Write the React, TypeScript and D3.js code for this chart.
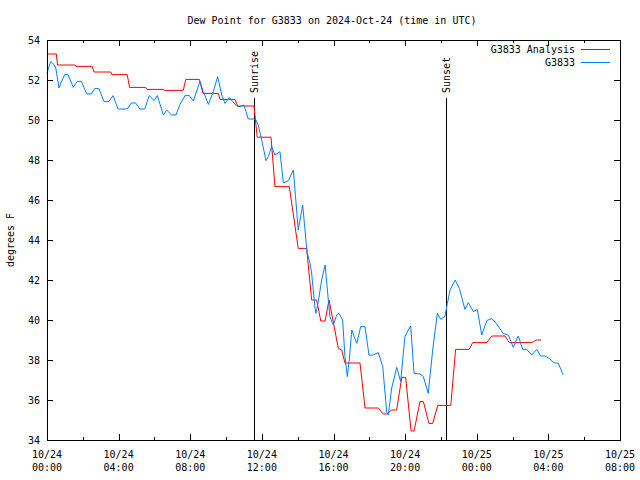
import React from "react";
import * as d3 from "d3";

const TITLE = "Dew Point for G3833 on 2024-Oct-24 (time in UTC)";
const Y_LABEL = "degrees F";
const SERIES_NAMES = ["G3833 Analysis", "G3833"];
const SERIES_COLORS = ["#ff0000", "#0080ff"];

// hours after 2024-10-24 00:00 UTC
const analysisHours = [0, 0.52, 0.59, 1.56, 1.62, 2.53, 2.62, 3.56, 3.63, 4.48, 4.61, 5.51, 5.58, 6.5, 6.56, 7.61, 7.75, 8.51, 8.71, 9.57, 9.66, 10.5, 10.64, 11.56, 11.74, 12.51, 12.73, 13.53, 14.03, 14.5, 14.78, 15.06, 15.29, 15.53, 15.75, 16.27, 16.46, 16.64, 17.48, 17.76, 18.5, 18.78, 18.97, 19.25, 19.53, 19.81, 20.03, 20.33, 20.5, 20.83, 21.02, 21.33, 21.54, 21.82, 22.55, 22.82, 23.58, 23.77, 24.56, 24.84, 25.58, 25.82, 27.07, 27.35, 27.59];
const analysisValues = [53.3, 53.3, 52.75, 52.75, 52.68, 52.68, 52.4, 52.4, 52.27, 52.27, 51.63, 51.63, 51.53, 51.53, 51.48, 51.48, 52.03, 52.03, 51.33, 51.33, 51.03, 51.03, 50.7, 50.7, 49.14, 49.14, 46.67, 46.67, 43.58, 43.58, 41.0, 41.0, 39.95, 39.95, 41.0, 38.58, 38.5, 37.85, 37.85, 35.6, 35.6, 35.3, 35.3, 35.5, 35.5, 37.13, 37.13, 34.45, 34.45, 35.92, 35.92, 34.83, 34.83, 35.73, 35.73, 38.53, 38.53, 38.87, 38.87, 39.2, 39.2, 38.87, 38.87, 39.0, 39.0];

const obsHours = [0, 0.21, 0.39, 0.49, 0.67, 0.77, 0.99, 1.17, 1.47, 1.69, 1.92, 2.22, 2.47, 2.66, 2.9, 3.18, 3.46, 3.69, 3.97, 4.48, 4.71, 4.95, 5.19, 5.46, 5.71, 5.98, 6.16, 6.5, 6.68, 6.96, 7.2, 7.43, 7.71, 7.95, 8.17, 8.54, 8.73, 9.01, 9.29, 9.53, 9.76, 9.94, 10.18, 10.37, 10.63, 10.78, 11.0, 11.24, 11.56, 11.67, 11.8, 11.99, 12.23, 12.36, 12.55, 12.73, 13.01, 13.2, 13.48, 13.76, 14.03, 14.28, 14.52, 14.69, 14.78, 14.97, 15.02, 15.15, 15.34, 15.53, 15.71, 15.8, 15.99, 16.18, 16.31, 16.51, 16.64, 16.77, 16.88, 17.02, 17.3, 17.52, 17.76, 17.98, 18.22, 18.5, 18.75, 18.97, 19.06, 19.25, 19.53, 19.75, 19.99, 20.18, 20.31, 20.5, 20.83, 21.02, 21.29, 21.54, 21.8, 21.99, 22.23, 22.36, 22.51, 22.79, 23.03, 23.34, 23.53, 23.81, 24.03, 24.28, 24.56, 24.84, 25.11, 25.48, 25.76, 26.04, 26.32, 26.57, 26.79, 27.07, 27.35, 27.57, 27.81, 28.05, 28.28, 28.56, 28.83];
const obsValues = [52.35, 52.93, 52.77, 52.6, 51.6, 51.85, 52.27, 52.27, 51.63, 51.93, 51.93, 51.3, 51.3, 51.57, 51.57, 50.93, 50.93, 51.22, 50.55, 50.55, 50.85, 50.85, 50.55, 50.55, 51.22, 50.97, 51.22, 50.25, 50.5, 50.25, 50.25, 50.78, 51.22, 51.22, 50.95, 51.92, 51.42, 50.78, 51.42, 52.17, 51.25, 50.83, 51.13, 50.92, 50.67, 50.67, 50.75, 50.05, 50.05, 50.0, 49.75, 49.0, 47.97, 48.17, 48.67, 48.25, 48.42, 46.85, 46.97, 47.5, 44.5, 45.75, 43.4, 42.83, 42.33, 40.58, 40.33, 40.92, 42.0, 42.75, 41.0, 40.17, 39.75, 40.25, 40.33, 40.0, 38.17, 37.17, 38.0, 39.5, 38.83, 39.67, 39.67, 38.25, 38.25, 38.37, 37.67, 35.4, 35.25, 36.6, 37.63, 36.92, 39.17, 39.5, 39.7, 37.33, 37.3, 37.17, 36.33, 38.5, 40.33, 40.03, 40.2, 40.83, 41.5, 42.0, 41.58, 40.53, 40.87, 40.42, 40.53, 39.25, 39.97, 40.08, 39.8, 39.33, 39.25, 38.63, 39.2, 38.53, 38.53, 38.25, 38.53, 38.2, 38.2, 38.08, 37.87, 37.83, 37.25];

const yTicks = [34, 36, 38, 40, 42, 44, 46, 48, 50, 52, 54];
const sunEvents = [
  { label: "Sunrise", hour: 11.58 },
  { label: "Sunset", hour: 22.28 },
];

const BASE = Date.UTC(2024, 9, 24);
const toDate = (h: number) => new Date(BASE + h * 3600 * 1000);

export default function App() {
  const W = 640, H = 480;
  const L = 47, R = 620, T = 40, B = 440;
  const font = "'DejaVu Sans Mono', 'Liberation Mono', monospace";

  const x = d3.scaleUtc().domain([toDate(0), toDate(32)]).range([L, R]);
  const y = d3.scaleLinear().domain([34, 54]).range([B, T]);

  const majorTicks = x.ticks(d3.utcHour.every(4) as any);
  const minorTicks = x.ticks(d3.utcHour.every(2) as any).filter(
    (d) => d.getUTCHours() % 4 !== 0
  );
  const fmtDate = d3.utcFormat("%m/%d");
  const fmtTime = d3.utcFormat("%H:%M");

  const line = d3
    .line<[number, number]>()
    .x((d) => x(toDate(d[0])))
    .y((d) => y(d[1]));

  const analysisData: [number, number][] = analysisHours.map((h, i) => [h, analysisValues[i]]);
  const obsData: [number, number][] = obsHours.map((h, i) => [h, obsValues[i]]);

  const px = (v: number) => Math.round(v) + 0.5;

  return (
    <svg width={W} height={H} style={{ display: "block", position: "absolute", left: 0, top: 0, background: "#fff" }}>
      <rect x={0} y={0} width={W} height={H} fill="#fff" />
      <text x={332} y={24} textAnchor="middle" fontFamily={font} fontSize={10} fill="#000">
        {TITLE}
      </text>
      <text
        transform={`translate(14,${(T + B) / 2}) rotate(-90)`}
        textAnchor="middle"
        fontFamily={font}
        fontSize={10}
        fill="#000"
      >
        {Y_LABEL}
      </text>

      {/* y ticks */}
      {yTicks.map((t) => (
        <g key={"y" + t}>
          <line x1={L} x2={L + 6} y1={px(y(t))} y2={px(y(t))} stroke="#000" />
          <line x1={R - 6} x2={R} y1={px(y(t))} y2={px(y(t))} stroke="#000" />
          <text x={40} y={y(t) + 4} textAnchor="end" fontFamily={font} fontSize={10} fill="#000">
            {t}
          </text>
        </g>
      ))}

      {/* x ticks */}
      {majorTicks.map((d, i) => (
        <g key={"xm" + i}>
          <line x1={px(x(d))} x2={px(x(d))} y1={B} y2={B - 6} stroke="#000" />
          <line x1={px(x(d))} x2={px(x(d))} y1={T} y2={T + 6} stroke="#000" />
          <text x={x(d)} y={458} textAnchor="middle" fontFamily={font} fontSize={10} fill="#000">
            {fmtDate(d)}
          </text>
          <text x={x(d)} y={471} textAnchor="middle" fontFamily={font} fontSize={10} fill="#000">
            {fmtTime(d)}
          </text>
        </g>
      ))}
      {minorTicks.map((d, i) => (
        <g key={"xn" + i}>
          <line x1={px(x(d))} x2={px(x(d))} y1={B} y2={B - 3} stroke="#000" />
          <line x1={px(x(d))} x2={px(x(d))} y1={T} y2={T + 3} stroke="#000" />
        </g>
      ))}

      {/* sun events */}
      {sunEvents.map((s) => (
        <g key={s.label}>
          <line x1={px(x(toDate(s.hour)))} x2={px(x(toDate(s.hour)))} y1={98} y2={B} stroke="#000" />
          <text
            transform={`translate(${x(toDate(s.hour)) + 4},93) rotate(-90)`}
            textAnchor="start"
            fontFamily={font}
            fontSize={10}
            fill="#000"
          >
            {s.label}
          </text>
        </g>
      ))}

      <path d={line(analysisData) || ""} fill="none" stroke={SERIES_COLORS[0]} strokeWidth={1} />
      <path d={line(obsData) || ""} fill="none" stroke={SERIES_COLORS[1]} strokeWidth={1} />

      {/* legend */}
      {SERIES_NAMES.map((n, i) => (
        <g key={n}>
          <text x={575} y={53 + i * 13} textAnchor="end" fontFamily={font} fontSize={10} fill="#000">
            {n}
          </text>
          <line x1={581} x2={610} y1={49.5 + i * 13} y2={49.5 + i * 13} stroke={SERIES_COLORS[i]} />
        </g>
      ))}

      <rect x={L + 0.5} y={T + 0.5} width={R - L} height={B - T} fill="none" stroke="#000" />
    </svg>
  );
}
